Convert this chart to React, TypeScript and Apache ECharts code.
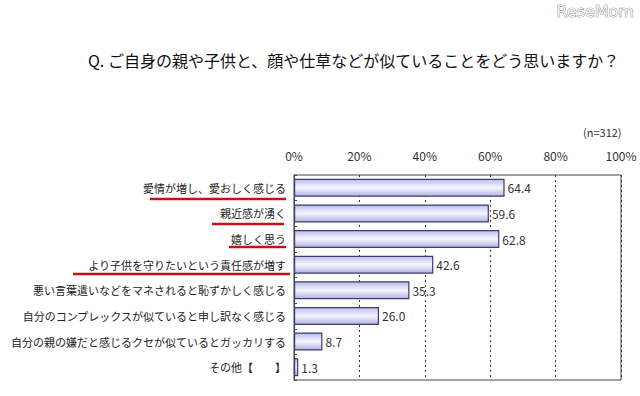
import React, { useEffect, useRef } from "react";
import * as echarts from "echarts";

const categories = [
  "愛情が増し、愛おしく感じる",
  "親近感が湧く",
  "嬉しく思う",
  "より子供を守りたいという責任感が増す",
  "悪い言葉遣いなどをマネされると恥ずかしく感じる",
  "自分のコンプレックスが似ていると申し訳なく感じる",
  "自分の親の嫌だと感じるクセが似ているとガッカリする",
  "その他【　　】",
];
const values = [64.4, 59.6, 62.8, 42.6, 35.3, 26.0, 8.7, 1.3];
const titleText = "Q. ご自身の親や子供と、顔や仕草などが似ていることをどう思いますか？";
const sampleNote = "(n=312)";
const brand = "ReseMom";

const FONT = '"Noto Sans CJK JP", "Noto Sans", sans-serif';

export default function App() {
  const ref = useRef<HTMLDivElement>(null);
  useEffect(() => {
    if (!ref.current) return;
    const chart = echarts.init(ref.current, undefined, { renderer: "svg" });
    const red = "#c8101a";
    const ul = (x1: number, x2: number, y: number) => ({
      type: "line",
      shape: { x1, y1: y, x2, y2: y },
      style: { stroke: red, lineWidth: 2.5 },
      z: 10,
    });
    chart.setOption({
      animation: false,
      backgroundColor: "#ffffff",
      textStyle: { fontFamily: FONT },
      grid: {
        left: 294,
        right: 19,
        top: 175,
        bottom: 16,
        show: true,
        borderColor: "#444",
        borderWidth: 1,
        containLabel: false,
      },
      xAxis: {
        type: "value",
        position: "top",
        min: 0,
        max: 100,
        interval: 20,
        axisLine: { show: false },
        axisTick: { show: false },
        axisLabel: {
          formatter: "{value}%",
          color: "#333",
          fontSize: 12,
          margin: 14,
          fontFamily: FONT,
        },
        splitLine: {
          show: true,
          lineStyle: { color: "#333", type: [2, 3], width: 1 },
        },
      },
      yAxis: {
        type: "category",
        inverse: true,
        data: categories,
        axisLine: { show: true, lineStyle: { color: "#444" } },
        axisTick: { show: true, inside: true, length: 3, lineStyle: { color: "#444" } },
        axisLabel: { color: "#222", fontSize: 11, margin: 8, fontFamily: FONT },
        splitLine: { show: false },
      },
      series: [
        {
          type: "bar",
          data: values,
          barWidth: 18,
          itemStyle: {
            color: new echarts.graphic.LinearGradient(0, 0, 0, 1, [
              { offset: 0, color: "#bcbcea" },
              { offset: 0.5, color: "#f6f6ff" },
              { offset: 1, color: "#b0b0e2" },
            ]),
            borderColor: "#3c3c6c",
            borderWidth: 1.2,
          },
          label: {
            show: true,
            position: "right",
            distance: 3,
            color: "#333",
            fontSize: 12,
            fontFamily: FONT,
            formatter: (p: any) => Number(p.value).toFixed(1),
          },
        },
      ],
      graphic: [
        {
          type: "text",
          left: 88,
          top: 52,
          style: { text: titleText, fontSize: 16, fill: "#111", fontFamily: FONT },
        },
        {
          type: "text",
          left: 583,
          top: 126,
          style: { text: sampleNote, fontSize: 11, fill: "#333", fontFamily: FONT },
        },
        {
          type: "text",
          left: 556,
          top: 3,
          style: {
            text: brand,
            fontSize: 16,
            fill: "#f4f4f4",
            stroke: "#666",
            lineWidth: 0.7,
            fontFamily: '"DejaVu Sans", sans-serif',
          },
        },
        ul(150, 286, 199),
        ul(212, 284, 224),
        ul(229, 286, 247),
        ul(73, 290, 274),
      ],
    });
    return () => chart.dispose();
  }, []);
  return (
    <div
      ref={ref}
      style={{ position: "absolute", left: 0, top: 0, width: 640, height: 396 }}
    />
  );
}
